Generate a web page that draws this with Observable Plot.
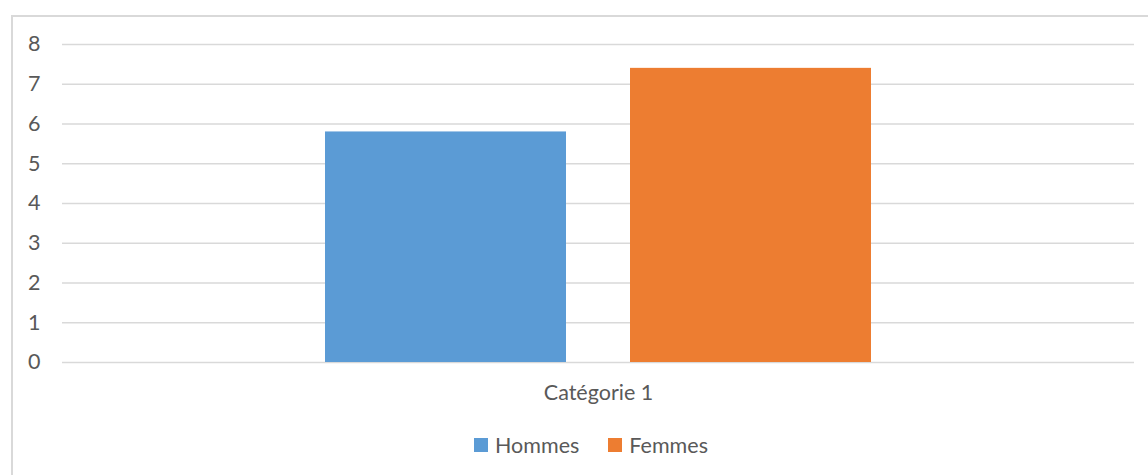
<!DOCTYPE html>
<html>
<head>
<meta charset="utf-8">
<script src="https://cdn.jsdelivr.net/npm/d3@7"></script>
<script src="https://cdn.jsdelivr.net/npm/@observablehq/plot@0.6"></script>
<style>
  html, body { margin: 0; padding: 0; background: #fff; overflow: hidden; }
  #frame { position: absolute; left: 11px; top: 15px; width: 1160px; height: 500px; border: 2px solid #d9d9d9; box-sizing: border-box; }
  #chart { position: absolute; left: 0; top: 0; }
  #legend { position: absolute; left: 0; top: 432px; width: 1182px; display: flex; justify-content: center; gap: 29px; font-family: Lato, sans-serif; font-size: 21.5px; color: #595959; }
  #legend .item { display: flex; align-items: center; gap: 7px; }
  #legend .sw { width: 14px; height: 14px; display: inline-block; }
</style>
</head>
<body>
<div id="frame"></div>
<div id="chart"></div>
<div id="legend"></div>
<script>
const categories = ["Catégorie 1"];
const series = ["Hommes", "Femmes"];
const hommes = [5.8];
const femmes = [7.4];
const yTicks = [0, 1, 2, 3, 4, 5, 6, 7, 8];
const colors = ["#5b9bd5", "#ed7d31"];

const table = [];
categories.forEach((c, i) => {
  table.push({category: c, series: "Hommes", value: hommes[i]});
  table.push({category: c, series: "Femmes", value: femmes[i]});
});

const plot = Plot.plot({
  width: 1148,
  height: 415,
  marginTop: 44,
  marginBottom: 53,
  marginLeft: 62,
  marginRight: 14,
  style: {fontFamily: "Lato, sans-serif", fontSize: "21.5px", color: "#595959", background: "transparent"},
  fx: {domain: categories, padding: 0, label: null, tickSize: 0, tickPadding: 22, axis: "bottom"},
  x: {domain: series, paddingInner: 0.21, paddingOuter: 0.862, axis: null},
  y: {domain: [0, 8], ticks: yTicks, label: null, tickSize: 0, tickPadding: 22},
  color: {domain: series, range: colors},
  marks: [
    Plot.ruleY(yTicks, {stroke: "#d9d9d9", strokeWidth: 1.5}),
    Plot.barY(table, {fx: "category", x: "series", y: "value", fill: "series"})
  ]
});
plot.querySelectorAll("text").forEach(t => t.style.fontSize = "21.5px");
document.getElementById("chart").appendChild(plot);

const legend = document.getElementById("legend");
series.forEach((s, i) => {
  const item = document.createElement("div");
  item.className = "item";
  const sw = document.createElement("span");
  sw.className = "sw";
  sw.style.background = colors[i];
  const t = document.createElement("span");
  t.textContent = s;
  item.appendChild(sw);
  item.appendChild(t);
  legend.appendChild(item);
});
</script>
</body>
</html>
